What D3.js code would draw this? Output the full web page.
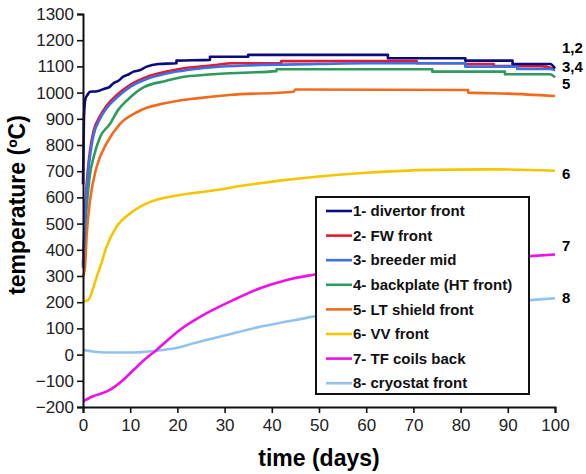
<!DOCTYPE html>
<html>
<head>
<meta charset="utf-8">
<script src="https://cdn.jsdelivr.net/npm/d3@7"></script>
<style>
  body { margin: 0; background: #fff; }
  svg { font-family: "Liberation Sans", Arial, Helvetica, sans-serif; }
</style>
</head>
<body>
<div id="chart"></div>
<script>
// series names (legend) and end labels
var names = ["1- divertor front", "2- FW front", "3- breeder mid", "4- backplate (HT front)",
  "5- LT shield front", "6- VV front", "7- TF coils back", "8- cryostat front"];
var colors = ["#0b0b80", "#e8182e", "#3d6fe6", "#2e9a5e", "#f26b1d", "#f6c400", "#ee10e6", "#92c3f0"];

// [day, temperature]
var divertor = [[0,650],[0.2,900],[0.5,975],[1,993],[1.5,1003],[3,1005],[4.7,1016],[5.5,1020],[6.4,1035],[7.5,1045],
  [8.5,1061],[9.5,1068],[10.7,1080],[12,1085],[13.5,1099],[16,1109],[19.8,1112],[19.8,1122],[26.9,1125],[26.9,1137],
  [35,1137],[35,1144],[64.6,1144],[64.6,1131],[81,1131],[81,1122],[91,1122],[91,1109],[99,1109],[100,1093]];
var fwFront = [[0,350],[0.5,570],[1,700],[1.5,780],[2.2,850],[3.6,910],[5,950],[7.1,990],[10,1030],[13.5,1060],
  [17.7,1080],[20.5,1090],[27.5,1104],[31.8,1112],[42,1112],[42,1120],[70.7,1120],[70.7,1112],[81,1112],[81,1109],
  [87,1109],[87,1101],[97,1101],[100,1090]];
var breeder = [[0,330],[0.5,550],[1,680],[1.5,760],[2.2,835],[3.6,900],[5,940],[7.1,980],[10,1022],[13.5,1052],
  [17.7,1073],[20.5,1082],[27.5,1097],[35,1104],[50,1109],[60,1112],[81,1112],[81,1099],[92,1099],[92,1090],
  [99,1090],[100,1085]];
var backplate = [[0,340],[0.5,500],[1,610],[1.5,690],[2.2,750],[3.6,830],[5.7,880],[7.5,935],[9.3,970],[12.8,1020],
  [17.7,1045],[20.5,1058],[24.8,1066],[31,1074],[41,1082],[41,1089],[74,1089],[74,1080],[89.4,1080],[89.4,1070],
  [99,1070],[100,1058]];
var ltShield = [[0,298],[0.4,330],[0.8,463],[1.5,590],[2.9,717],[5,806],[7.8,880],[11.4,925],[13.5,942],[17,958],
  [20.5,970],[24,978],[31,991],[44.6,1003],[45,1012],[81.6,1010],[81.6,1000],[90,996],[100,987]];
var vvFront = [[0,202],[1.1,208],[2,245],[2.9,297],[4,355],[5,412],[7.1,488],[10,539],[13.5,577],[20.5,609],
  [27.6,626],[34.7,647],[41.7,664],[50,680],[60,694],[74,705],[88,707],[100,702]];
var tfCoils = [[0,-178],[2,-160],[5.7,-135],[8,-105],[10.7,-59],[13,-20],[15.6,18],[20.5,94],[26.2,158],[31.8,208],
  [37.5,253],[43.2,285],[48.8,305],[60,335],[70,352],[80,365],[94.7,376],[100,382]];
var cryostat = [[0,18],[2,12],[5,8],[10,8],[15.6,15],[20,26],[23.4,43],[30.4,75],[37.5,106],[43.2,126],[48.8,145],
  [60,170],[70,185],[80,197],[94.7,208],[100,215]];

var xTicks = [0,10,20,30,40,50,60,70,80,90,100];
var yTicks = [-200,-100,0,100,200,300,400,500,600,700,800,900,1000,1100,1200,1300];

var endLabels = [["1,2", 1170], ["3,4", 1098], ["5", 1034], ["6", 690], ["7", 415], ["8", 216]];

var series = [divertor, fwFront, breeder, backplate, ltShield, vvFront, tfCoils, cryostat];

var width = 586, height = 474;
var margin = {left: 83, top: 14, right: 31, bottom: 67};

var svg = d3.select("#chart").append("svg")
  .attr("width", width)
  .attr("height", height);

var x = d3.scaleLinear().domain([0, 100]).range([margin.left, width - margin.right]);
var y = d3.scaleLinear().domain([-200, 1300]).range([height - margin.bottom, margin.top]);

// monotone keeps the flat steps flat (no overshoot)
var line = d3.line()
  .curve(d3.curveMonotoneX)
  .x(function(d){ return x(d[0]); })
  .y(function(d){ return y(d[1]); });

// draw back to front so divertor sits on top like in the original
var order = [7, 6, 5, 4, 3, 1, 2, 0];
order.forEach(function(i){
  svg.append("path")
    .datum(series[i])
    .attr("fill", "none")
    .attr("stroke", colors[i])
    .attr("stroke-width", 2.6)
    .attr("stroke-linejoin", "round")
    .attr("d", line);
});

// axes
var fmt = d3.format("d");
var xAxis = svg.append("g")
  .attr("transform", "translate(0," + y(-200) + ")")
  .call(d3.axisBottom(x).tickValues(xTicks).tickFormat(fmt).tickSize(6).tickPadding(6));
var yAxis = svg.append("g")
  .attr("transform", "translate(" + x(0) + ",0)")
  .call(d3.axisLeft(y).tickValues(yTicks).tickFormat(fmt).tickSize(6).tickPadding(3));

[xAxis, yAxis].forEach(function(a){
  a.select(".domain").attr("stroke", "#111").attr("stroke-width", 2);
  a.selectAll(".tick line").attr("stroke", "#111").attr("stroke-width", 1.6);
  a.selectAll(".tick text").attr("fill", "#222").style("font-size", "17px")
    .style("font-family", '"Liberation Sans", Arial, sans-serif');
});

// axis titles
svg.append("text")
  .attr("x", 319).attr("y", 466)
  .attr("text-anchor", "middle")
  .style("font-size", "23px").style("font-weight", "bold")
  .text("time (days)");
svg.append("text")
  .attr("transform", "translate(25,205) rotate(-90)")
  .attr("text-anchor", "middle")
  .style("font-size", "23px").style("font-weight", "bold")
  .text("temperature (ºC)");

// labels at the right end of the curves
svg.selectAll(".endlab")
  .data(endLabels)
  .enter().append("text")
  .attr("class", "endlab")
  .attr("x", 562)
  .attr("y", function(d){ return y(d[1]); })
  .attr("dy", "0.35em")
  .style("font-size", "15px").style("font-weight", "bold")
  .text(function(d){ return d[0]; });

// legend
var legend = svg.append("g").attr("transform", "translate(316,197)");
legend.append("rect")
  .attr("width", 213).attr("height", 197)
  .attr("fill", "#fff").attr("stroke", "#111").attr("stroke-width", 2);
var items = legend.selectAll(".item")
  .data(names)
  .enter().append("g")
  .attr("class", "item")
  .attr("transform", function(d, i){ return "translate(0," + (14 + i * 24.6) + ")"; });
items.append("line")
  .attr("x1", 10).attr("x2", 36)
  .attr("stroke", function(d, i){ return colors[i]; })
  .attr("stroke-width", 2.6);
items.append("text")
  .attr("x", 37).attr("dy", "0.35em")
  .style("font-size", "15px").style("font-weight", "bold")
  .attr("fill", "#111")
  .text(function(d){ return d; });
</script>
</body>
</html>
